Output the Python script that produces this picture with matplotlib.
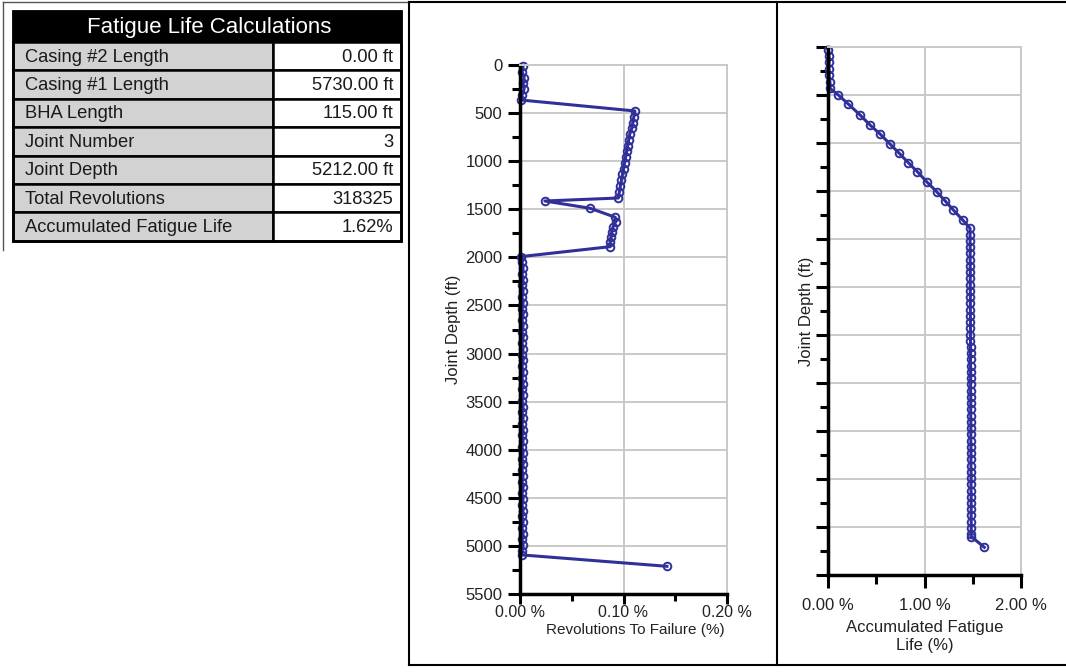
import matplotlib
matplotlib.use("Agg")
import matplotlib.pyplot as plt
from matplotlib.patches import Rectangle
from matplotlib.ticker import MultipleLocator, FuncFormatter

plt.rcParams['font.family'] = ['Liberation Sans', 'DejaVu Sans']

# ---- summary table ----
table_title = "Fatigue Life Calculations"
row_labels = ["Casing #2 Length", "Casing #1 Length", "BHA Length", "Joint Number",
              "Joint Depth", "Total Revolutions", "Accumulated Fatigue Life"]
row_values = ["0.00 ft", "5730.00 ft", "115.00 ft", "3", "5212.00 ft", "318325", "1.62%"]

# ---- revolutions to failure per joint (depth in ft, value in %) ----
rtf_depth = [10, 70, 130, 190, 250, 310, 364,
             478, 538, 598, 658, 718, 778, 838, 898, 958, 1018, 1078, 1138, 1198, 1258, 1318, 1383,
             1414, 1490, 1583, 1629, 1681, 1733, 1785, 1837, 1889,
             1992, 2052, 2112, 2172, 2232, 2292, 2352, 2412, 2472, 2532, 2592, 2652, 2712,
             2772, 2832, 2892, 2952, 3012, 3072, 3132, 3192, 3252, 3312, 3372, 3432, 3492,
             3552, 3612, 3672, 3732, 3792, 3852, 3912, 3972, 4032, 4092, 4152, 4212, 4272,
             4332, 4392, 4452, 4512, 4572, 4632, 4692, 4752, 4812, 4872, 4932, 4992, 5052, 5094,
             5212]
rtf_value = [0.003, 0.002, 0.004, 0.003, 0.004, 0.002, 0.001,
             0.111, 0.110, 0.109, 0.108, 0.106, 0.105, 0.104, 0.103, 0.102, 0.101, 0.100, 0.099,
             0.098, 0.097, 0.096, 0.095,
             0.024, 0.068, 0.092, 0.0925, 0.090, 0.0886, 0.088, 0.087, 0.087,
             0.001, 0.002, 0.003, 0.002, 0.003, 0.002, 0.003, 0.002, 0.003, 0.002, 0.003, 0.002,
             0.003, 0.002, 0.003, 0.002, 0.003, 0.002, 0.003, 0.002, 0.003, 0.002, 0.003, 0.002,
             0.003, 0.002, 0.003, 0.002, 0.003, 0.002, 0.003, 0.002, 0.003, 0.002, 0.003, 0.002,
             0.003, 0.002, 0.003, 0.002, 0.003, 0.002, 0.003, 0.002, 0.003, 0.002, 0.003, 0.002,
             0.003, 0.002, 0.003, 0.002, 0.002,
             0.142]

# ---- accumulated fatigue life (depth in ft, value in %) ----
afl_depth = [30, 95, 160, 225, 290, 360, 430,
             500, 594, 708, 812, 906, 1010, 1108, 1205, 1299, 1403, 1507, 1601, 1698, 1802, 1889,
             1955, 2020, 2085, 2150, 2215, 2280, 2345, 2410, 2475, 2540, 2605, 2670, 2735, 2800,
             2865, 2930, 2995, 3060, 3125, 3190, 3255, 3320, 3385, 3450, 3515, 3580, 3645, 3710,
             3775, 3840, 3905, 3970, 4035, 4100, 4165, 4230, 4295, 4360, 4425, 4490, 4555, 4620,
             4685, 4750, 4815, 4880, 4945, 5010, 5075, 5100,
             5212]
afl_value = [0.00, 0.01, 0.01, 0.01, 0.01, 0.02, 0.02,
             0.107, 0.21, 0.332, 0.435, 0.539, 0.642, 0.739, 0.832, 0.926, 1.022, 1.126, 1.212,
             1.299, 1.396, 1.472,
             1.472, 1.472, 1.473, 1.473, 1.473, 1.473, 1.474, 1.474, 1.474, 1.474, 1.475, 1.475,
             1.475, 1.475, 1.476, 1.476, 1.476, 1.476, 1.477, 1.477, 1.477, 1.477, 1.478, 1.478,
             1.478, 1.478, 1.479, 1.479, 1.479, 1.479, 1.480, 1.480, 1.480, 1.480, 1.481, 1.481,
             1.481, 1.481, 1.482, 1.482, 1.482, 1.482, 1.483, 1.483, 1.483, 1.483, 1.484, 1.484,
             1.484, 1.485,
             1.62]

W, H = 1066, 672
fig = plt.figure(figsize=(W / 100, H / 100), dpi=100)
fig.patch.set_facecolor('white')

# background canvas in pixel units for the table and panel frames
bg = fig.add_axes([0, 0, 1, 1], zorder=0)
bg.set_xlim(0, W)
bg.set_ylim(H, 0)
bg.axis('off')

# outer frame around the table area
bg.plot([3, 3], [2, 250], color='#555555', lw=1.0)
bg.plot([3, 409], [2, 2], color='#555555', lw=1.0)

tx0, tx1, tsplit = 13, 401, 273
hy0, hy1 = 11, 42
row_h = 28.4
text_dark = '#1a1a1a'
bg.add_patch(Rectangle((tx0, hy0), tx1 - tx0, hy1 - hy0, facecolor='black', edgecolor='black'))
bg.text((tx0 + tx1) / 2 + 2, (hy0 + hy1) / 2 + 1, table_title, color='white', fontsize=16,
        ha='center', va='center')
for i, (lab, val) in enumerate(zip(row_labels, row_values)):
    y0 = hy1 + i * row_h
    bg.add_patch(Rectangle((tx0, y0), tsplit - tx0, row_h, facecolor='#d2d2d2',
                           edgecolor='black', linewidth=1.8))
    bg.add_patch(Rectangle((tsplit, y0), tx1 - tsplit, row_h, facecolor='white',
                           edgecolor='black', linewidth=1.8))
    bg.text(tx0 + 12, y0 + row_h / 2 + 1, lab, fontsize=13.2, color=text_dark,
            ha='left', va='center')
    bg.text(tx1 - 8, y0 + row_h / 2 + 1, val, fontsize=13.2, color=text_dark,
            ha='right', va='center')
bg.add_patch(Rectangle((tx0, hy0), tx1 - tx0, hy1 + 7 * row_h - hy0, facecolor='none',
                       edgecolor='black', linewidth=2))

# chart panel frames
px0, pdiv, py0, py1 = 409, 777, 2, 665
bg.plot([px0, px0], [py0, py1], color='black', lw=1.5)
bg.plot([px0, W], [py0, py0], color='black', lw=1.5)
bg.plot([px0, W], [py1, py1], color='black', lw=1.5)
bg.plot([pdiv, pdiv], [py0, py1], color='black', lw=1.5)

line_color = '#30309a'
grid_color = '#c9c9c9'
text_color = '#222222'


def style_axes(ax, xmax, xstep, xlen):
    ax.set_xlim(0, xmax)
    ax.set_ylim(5500, 0)
    ax.xaxis.set_major_locator(MultipleLocator(xstep))
    ax.xaxis.set_minor_locator(MultipleLocator(xstep / 2))
    ax.yaxis.set_major_locator(MultipleLocator(500))
    ax.yaxis.set_minor_locator(MultipleLocator(250))
    ax.grid(True, which='major', color=grid_color, linewidth=1.4)
    ax.set_axisbelow(True)
    for side in ('top', 'right'):
        ax.spines[side].set_color(grid_color)
        ax.spines[side].set_linewidth(1.4)
    for side in ('left', 'bottom'):
        ax.spines[side].set_color('black')
        ax.spines[side].set_linewidth(2.5)
    ax.tick_params(which='major', direction='out', length=9, width=2.2, color='black',
                   labelsize=12, labelcolor=text_color)
    ax.tick_params(which='minor', direction='out', length=6, width=2.2, color='black')
    ax.tick_params(axis='x', which='major', length=xlen)
    ax.tick_params(axis='x', which='minor', length=xlen * 0.7)
    ax.xaxis.set_major_formatter(FuncFormatter(lambda v, p: f"{v:.2f} %"))


# revolutions to failure
ax1 = fig.add_axes([520 / W, 1 - 594 / H, 207 / W, 529 / H], zorder=2)
style_axes(ax1, 0.2, 0.1, 7)
ax1.tick_params(axis='x', which='major', pad=1, labelsize=11.5)
ax1.plot(rtf_value, rtf_depth, color=line_color, lw=2.2, marker='o', ms=5.5, mfc='none',
         mec=line_color, mew=1.4, clip_on=False)
ax1.set_ylabel("Joint Depth (ft)", fontsize=12, color=text_color, labelpad=3)
ax1.set_xlabel("Revolutions To Failure (%)", fontsize=11, color=text_color, labelpad=1.5)
ax1.xaxis.set_label_coords(0.555, -0.055)

# accumulated fatigue life
ax2 = fig.add_axes([828 / W, 1 - 575 / H, 193 / W, 528 / H], zorder=2)
style_axes(ax2, 2.0, 1.0, 9)
ax2.tick_params(axis='x', which='major', pad=7.5)
ax2.plot(afl_value, afl_depth, color=line_color, lw=2.2, marker='o', ms=5.5, mfc='none',
         mec=line_color, mew=1.4, clip_on=False)
ax2.tick_params(axis='y', which='both', labelleft=False)
ax2.set_ylabel("Joint Depth (ft)", fontsize=12, color=text_color, labelpad=1)
ax2.set_xlabel("Accumulated Fatigue\nLife (%)", fontsize=12, color=text_color, labelpad=5,
               linespacing=1.25)

fig.savefig("out.png", dpi=100, facecolor='white')
